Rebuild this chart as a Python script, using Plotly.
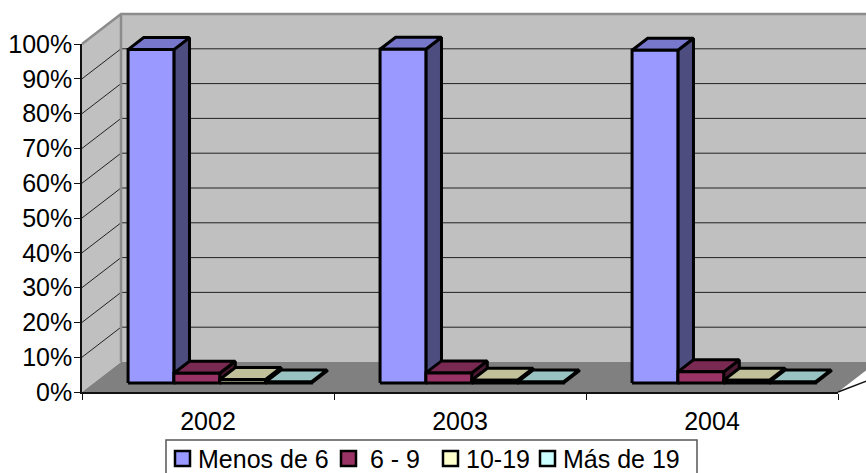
import plotly.graph_objects as go

# Source figures, share of companies per year and size band
years = ["2002", "2003", "2004"]
series_names = ["Menos de 6", "6 - 9", "10-19", "Más de 19"]
menos_6 = [95.8, 95.9, 95.6]
de_6_9 = [2.8, 2.9, 3.2]
de_10_19 = [1.0, 0.8, 0.8]
mas_19 = [0.3, 0.3, 0.3]
series_values = [menos_6, de_6_9, de_10_19, mas_19]
y_ticks = list(range(0, 101, 10))

# Face colours: front, top, side
front_colors = ["#9999FF", "#993366", "#FFFFCC", "#CCFFFF"]
top_colors = ["#7777CC", "#7A2952", "#C0C09A", "#99C2C2"]
side_colors = ["#4D4D80", "#4D1A33", "#808066", "#668080"]

WIDTH, HEIGHT = 866, 473
LEFT, RIGHT, BASE, TOP = 82, 838, 392, 44
CAT_PX = (RIGHT - LEFT) / 3
PCT_PX = (BASE - TOP) / 100
DEPTH_X = 39 / CAT_PX   # horizontal shift of the back plane, in categories
DEPTH_Y = 30 / PCT_PX   # vertical shift of the back plane, in percent
BAR_W = 1 / 5.5
GROUP_OFFSET = 0.75 * BAR_W
Z_FRONT, Z_BACK = 0.3, 0.7


def project(u, pct, z=0.0):
    """Oblique projection of category/percent/depth onto the flat axes."""
    return u + z * DEPTH_X, pct + z * DEPTH_Y


def polygon(points):
    xs, ys = zip(*[project(*p) for p in points])
    return list(xs) + [xs[0]], list(ys) + [ys[0]]


def face(points, fill, line="#000000", width=3):
    x, y = polygon(points)
    return go.Scatter(x=x, y=y, mode="lines", fill="toself", fillcolor=fill,
                      line=dict(color=line, width=width), hoverinfo="skip",
                      showlegend=False, xaxis="x", yaxis="y")


def stroke(points, color, width):
    xs, ys = zip(*[project(*p) for p in points])
    return go.Scatter(x=xs, y=ys, mode="lines", line=dict(color=color, width=width),
                      hoverinfo="skip", showlegend=False, xaxis="x", yaxis="y")


fig = go.Figure()

# Walls and floor of the box
far = 3.3
fig.add_trace(face([(0, 0, 1), (far, 0, 1), (far, 100, 1), (0, 100, 1)], "#C0C0C0", "#C0C0C0", 0))
fig.add_trace(face([(0, 0, 0), (0, 0, 1), (0, 100, 1), (0, 100, 0)], "#C0C0C0", "#C0C0C0", 0))
fig.add_trace(face([(0, 0, 0), (3, 0, 0), (3, 0, 1), (far, 0, 1), (0, 0, 1)], "#808080", "#808080", 0))

# Gridlines run across the side wall and along the back wall
for tick in y_ticks[1:-1]:
    fig.add_trace(stroke([(0, tick, 0), (0, tick, 1), (far, tick, 1)], "#222222", 1))
fig.add_trace(stroke([(0, 100, 0), (0, 100, 1), (far, 100, 1)], "#8C8C8C", 2.5))
fig.add_trace(stroke([(0, 0, 1), (0, 100, 1)], "#8C8C8C", 2.5))
fig.add_trace(stroke([(3, 0, 0), (3 + 1 * DEPTH_X, 0, 1)], "#111111", 1.5))

# Bars, series by series inside each year
for c in range(len(years)):
    for s, values in enumerate(series_values):
        v = values[c]
        x0 = c + GROUP_OFFSET + s * BAR_W
        x1 = x0 + BAR_W
        fig.add_trace(face([(x1, 0, Z_FRONT), (x1, 0, Z_BACK), (x1, v, Z_BACK), (x1, v, Z_FRONT)], side_colors[s]))
        fig.add_trace(face([(x0, v, Z_FRONT), (x1, v, Z_FRONT), (x1, v, Z_BACK), (x0, v, Z_BACK)], top_colors[s]))
        fig.add_trace(face([(x0, 0, Z_FRONT), (x1, 0, Z_FRONT), (x1, v, Z_FRONT), (x0, v, Z_FRONT)], front_colors[s]))

# Carrier for the visible value and category axes
fig.add_trace(go.Scatter(x=[None], y=[None], xaxis="x2", yaxis="y2", showlegend=False))

FONT = dict(family="Liberation Sans, Arial, sans-serif", size=25, color="#000000")

# Legend box, swatches and labels
LEGEND = dict(x0=166, x1=697, top=440)
swatch_px = [175, 341, 443, 540]
label_px = [197, 369, 465, 562]
shapes = [dict(type="rect", xref="paper", yref="paper",
               x0=LEGEND["x0"] / WIDTH, x1=LEGEND["x1"] / WIDTH,
               y0=-20 / HEIGHT, y1=1 - LEGEND["top"] / HEIGHT,
               fillcolor="#FFFFFF", line=dict(color="#555555", width=1.5), layer="above")]
annotations = []
for name, color, sx, lx in zip(series_names, front_colors, swatch_px, label_px):
    shapes.append(dict(type="rect", xref="paper", yref="paper",
                       x0=sx / WIDTH, x1=(sx + 15) / WIDTH,
                       y0=1 - 466 / HEIGHT, y1=1 - 451 / HEIGHT,
                       fillcolor=color, line=dict(color="#000000", width=2.5), layer="above"))
    annotations.append(dict(text=name, xref="paper", yref="paper", x=lx / WIDTH, y=1 - 459 / HEIGHT,
                            xanchor="left", yanchor="middle", showarrow=False, font=FONT, borderpad=0))

fig.update_layout(
    width=WIDTH, height=HEIGHT,
    margin=dict(l=0, r=0, t=0, b=0, autoexpand=False),
    paper_bgcolor="#FFFFFF", plot_bgcolor="rgba(0,0,0,0)",
    font=FONT, showlegend=False,
    shapes=shapes, annotations=annotations,
    # Full-page axes that carry the projected faces
    xaxis=dict(visible=False, domain=[0, 1], fixedrange=True,
               range=[-LEFT / CAT_PX, (WIDTH - LEFT) / CAT_PX]),
    yaxis=dict(visible=False, domain=[0, 1], fixedrange=True,
               range=[(BASE - HEIGHT) / PCT_PX, BASE / PCT_PX]),
    # Front-plane axes with the ticks and labels
    xaxis2=dict(domain=[LEFT / WIDTH, RIGHT / WIDTH], range=[0, 3], anchor="y2",
                tickmode="array", tickvals=[0.5, 1.5, 2.5], ticktext=years,
                ticks="", showgrid=False, zeroline=False, showline=True,
                linecolor="#111111", linewidth=1.5, tickfont=FONT, ticklabelstandoff=6,
                minor=dict(tickmode="array", tickvals=[0, 1, 2, 3], ticks="outside",
                           ticklen=6, tickcolor="#111111", tickwidth=1, showgrid=False)),
    yaxis2=dict(domain=[1 - BASE / HEIGHT, 1 - TOP / HEIGHT], range=[0, 100], anchor="x2",
                tickmode="array", tickvals=y_ticks, ticktext=[f"{t}%" for t in y_ticks],
                ticks="outside", ticklen=6, tickcolor="#111111", tickwidth=1, ticklabelstandoff=-3,
                showgrid=False, zeroline=False, showline=True,
                linecolor="#111111", linewidth=1.5, tickfont=FONT),
)

fig.write_html("out.html")
